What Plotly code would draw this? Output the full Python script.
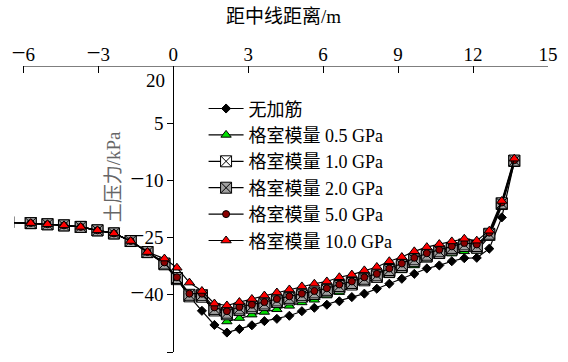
import plotly.graph_objects as go

# distance from centre line (m)
x_pos = [-6.6, -5.7, -5.03, -4.37, -3.7, -3.03, -2.37, -1.7, -1.03,
         -0.35, 0.15, 0.65, 1.15, 1.65, 2.15, 2.65, 3.15, 3.65, 4.15, 4.65,
         5.15, 5.65, 6.15, 6.65, 7.15, 7.65, 8.15, 8.65, 9.15, 9.65, 10.15,
         10.65, 11.15, 11.65, 12.15, 12.65, 13.15, 13.65]

left_part = [-21.0, -21.2, -21.5, -21.8, -22.2, -23.1, -23.9, -25.9, -28.8]

y_none = left_part + [-31.7, -35.7, -40.4, -44.2, -47.9, -49.9, -49.0, -48.0, -46.9, -46.3,
                      -45.5, -44.3, -43.4, -42.6, -41.7, -40.6, -39.7, -38.4, -37.1, -35.8,
                      -34.5, -33.1, -32.3, -31.2, -30.4, -30.3, -27.9, -19.7, -5.2]
y_05 = left_part + [-31.7, -35.7, -40.4, -40.6, -44.1, -47.0, -46.1, -45.2, -44.5, -43.8,
                    -42.9, -42.0, -41.3, -40.2, -39.3, -37.8, -36.7, -35.8, -34.9, -33.6,
                    -32.3, -30.8, -29.9, -29.2, -28.6, -28.5, -24.7, -16.8, -5.6]
y_10 = left_part + [-32.0, -35.9, -40.4, -40.5, -44.1, -45.1, -44.0, -43.4, -42.7, -41.9,
                    -41.2, -40.5, -39.8, -39.1, -38.1, -37.3, -36.2, -35.3, -33.9, -32.6,
                    -31.1, -29.9, -29.0, -28.1, -27.2, -27.6, -24.3, -16.2, -4.9]
y_20 = left_part + [-31.8, -35.6, -40.0, -40.1, -43.7, -44.7, -43.6, -43.0, -42.3, -41.5,
                    -40.8, -40.1, -39.4, -38.7, -37.7, -36.9, -35.8, -34.9, -33.5, -32.2,
                    -30.7, -29.5, -28.6, -27.7, -26.8, -27.2, -24.0, -16.0, -4.8]
y_50 = left_part + [-31.5, -35.4, -39.7, -39.7, -43.3, -44.3, -43.2, -42.6, -41.9, -41.1,
                    -40.4, -39.7, -39.0, -38.3, -37.3, -36.5, -35.4, -34.5, -33.1, -31.8,
                    -30.3, -29.1, -28.2, -27.3, -26.4, -26.8, -23.7, -15.8, -4.7]
y_100 = left_part + [-30.5, -32.9, -36.8, -39.0, -42.3, -42.8, -41.9, -41.1, -40.2, -39.4,
                     -38.6, -37.8, -37.1, -36.5, -35.4, -34.7, -33.6, -32.7, -31.2, -30.1,
                     -28.6, -27.5, -26.7, -26.0, -25.3, -25.8, -23.2, -15.4, -4.3]

names = ["无加筋", "格室模量 0.5 GPa", "格室模量 1.0 GPa", "格室模量 2.0 GPa",
         "格室模量 5.0 GPa", "格室模量 10.0 GPa"]
x_ticks = [-6, -3, 0, 3, 6, 9, 12, 15]
y_ticks = [5, -10, -25, -40, -55]

FONT = "'Liberation Serif', 'Noto Sans CJK SC', serif"
SERIF = "'Liberation Serif', serif"


def tick_label(v):
    if v < 0:
        return "<span style='font-size:25px'>−</span>%d" % abs(v)
    return "%d" % v


styles = [
    dict(symbol="diamond", size=7, color="black", lc="black"),
    dict(symbol="triangle-up", size=9, color="#00e000", lc="black"),
    dict(symbol="square-x", size=11, color="white", lc="black"),
    dict(symbol="square-x", size=11, color="#a0a0a0", lc="black"),
    dict(symbol="circle", size=7, color="#8b0000", lc="black"),
    dict(symbol="triangle-up", size=9, color="red", lc="black"),
]

fig = go.Figure()
for name, ys, st in zip(names, [y_none, y_05, y_10, y_20, y_50, y_100], styles):
    fig.add_trace(go.Scatter(
        x=x_pos, y=ys, name=name, mode="lines+markers",
        line=dict(color="black", width=1.2),
        marker=dict(symbol=st["symbol"], size=st["size"], color=st["color"],
                    line=dict(color=st["lc"], width=1)),
    ))

x0, x1 = -6.37, 15
ypos = (0 - x0) / (x1 - x0)

fig.update_layout(
    width=568, height=362,
    margin=dict(l=14, r=18, t=66, b=10),
    plot_bgcolor="white", paper_bgcolor="white",
    font=dict(family=FONT, size=19, color="black"),
    showlegend=True,
    legend=dict(x=0.355, y=0.915, xanchor="left", yanchor="top",
                bgcolor="rgba(0,0,0,0)", font=dict(size=18, family=FONT),
                itemwidth=35),
    xaxis=dict(range=[x0, x1], side="top", tickvals=x_ticks,
               ticktext=[tick_label(v) for v in x_ticks],
               ticks="inside", ticklen=7, tickcolor="black", tickwidth=1,
               showline=False, showgrid=False, zeroline=False,
               tickfont=dict(size=19, family=SERIF)),
    yaxis=dict(range=[-55, 20], anchor="free", position=ypos,
               tickvals=y_ticks, ticktext=[tick_label(v) for v in y_ticks],
               ticks="outside", ticklen=6, tickcolor="black",
               showline=True, linecolor="black", linewidth=1,
               showgrid=False, zeroline=False,
               tickfont=dict(size=19, family=SERIF)),
    shapes=[dict(type="line", xref="x", yref="y", x0=-6, x1=15, y0=20, y1=20,
                 line=dict(color="black", width=1.2))],
    annotations=[
        dict(text="距中线距离/m", xref="paper", yref="paper", x=0.504, y=1.172,
             showarrow=False, xanchor="center", yanchor="middle",
             font=dict(size=19, family=FONT)),
        dict(text="土压力/kPa", xref="paper", yref="paper", x=0.188, y=0.612,
             showarrow=False, textangle=-90, xanchor="center", yanchor="middle",
             font=dict(size=19, family=FONT, color="#666666")),
        dict(text="20", xref="x", yref="y", x=0, y=20, showarrow=False,
             xanchor="right", yanchor="top", xshift=-6, yshift=-2,
             font=dict(size=19, family=SERIF)),
    ],
)

fig.write_html("out.html")
